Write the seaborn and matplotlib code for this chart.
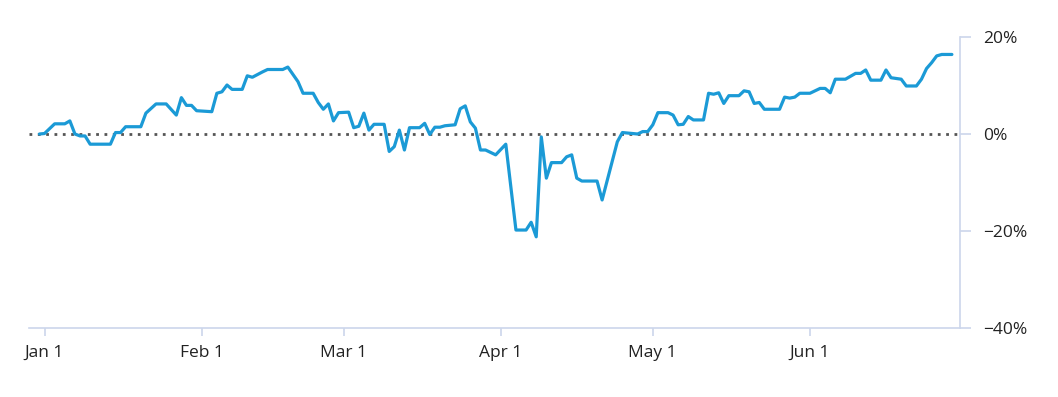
import matplotlib
matplotlib.use("Agg")
import matplotlib.pyplot as plt
import matplotlib.dates as mdates
import seaborn as sns
import pandas as pd
import numpy as np

# Day offsets from Jan 1 and cumulative return (%)
day_offsets = [-1, 0, 2, 4, 5, 6, 7, 8, 9, 13, 14, 15, 16, 19, 20, 22, 24, 26, 27, 28,
               29, 30, 33, 34, 35, 36, 37, 39, 40, 41, 43, 44, 47, 48, 50, 51, 53, 54, 55, 56,
               57, 58, 60, 61, 62, 63, 64, 65, 67, 68, 69, 70, 71, 72, 74, 75, 76, 77, 78, 79,
               81, 82, 83, 84, 85, 86, 87, 89, 91, 93, 95, 96, 97, 98, 99, 100, 102, 103, 104, 105,
               106, 109, 110, 113, 114, 116, 117, 118, 119, 120, 121, 123, 124, 125, 126, 127, 128, 130, 131, 132,
               133, 134, 135, 137, 138, 139, 140, 141, 142, 145, 146, 147, 148, 149, 151, 153, 154, 155, 156, 158,
               160, 161, 162, 163, 165, 166, 167, 169, 170, 172, 173, 174, 175, 176, 177, 179]
returns_pct = [0.0, 0.1, 2.1, 2.1, 2.7, 0.0, -0.4, -0.4, -2.1, -2.1, 0.3, 0.3, 1.5, 1.5, 4.3, 6.2, 6.2, 3.9, 7.5, 5.9,
               5.9, 4.8, 4.6, 8.4, 8.7, 10.1, 9.2, 9.2, 12.0, 11.7, 12.8, 13.3, 13.3, 13.8, 10.8, 8.4, 8.4, 6.5, 5.1, 6.2,
               2.7, 4.4, 4.5, 1.3, 1.6, 4.3, 0.8, 2.0, 2.0, -3.6, -2.6, 0.8, -3.3, 1.3, 1.3, 2.2, -0.1, 1.4, 1.4, 1.7,
               1.9, 5.2, 5.8, 2.5, 1.2, -3.3, -3.3, -4.3, -2.1, -19.8, -19.8, -18.2, -21.2, -0.6, -9.1, -5.9, -5.9, -4.7, -4.3, -9.1,
               -9.7, -9.7, -13.6, -1.6, 0.3, 0.1, 0.0, 0.5, 0.5, 1.9, 4.4, 4.4, 3.9, 1.9, 2.0, 3.6, 2.9, 2.9, 8.4, 8.2,
               8.5, 6.3, 7.9, 7.9, 8.9, 8.7, 6.3, 6.5, 5.1, 5.1, 7.6, 7.4, 7.6, 8.4, 8.4, 9.4, 9.4, 8.5, 11.3, 11.3,
               12.5, 12.5, 13.2, 11.1, 11.1, 13.2, 11.6, 11.3, 9.9, 9.9, 11.3, 13.5, 14.7, 16.1, 16.4, 16.4]

month_ticks = ["2021-01-01", "2021-02-01", "2021-03-01", "2021-04-01", "2021-05-01", "2021-06-01"]
y_ticks = [-40, -20, 0, 20]
y_tick_labels = ["\u221240%", "\u221220%", "0%", "20%"]

start = pd.Timestamp("2021-01-01")
df = pd.DataFrame({
    "date": [start + pd.Timedelta(days=d) for d in day_offsets],
    "ret": returns_pct,
})

sns.set_theme(style="white")
plt.rcParams["font.family"] = ["Open Sans", "DejaVu Sans"]

fig = plt.figure(figsize=(10.58, 3.97), dpi=100)
ax = fig.add_axes([29 / 1058, 1 - 328 / 397, (960 - 29) / 1058, (328 - 37) / 397])

line_color = "#1b9ad6"
axis_color = "#ccd6eb"
text_color = "#222222"

ax.axhline(0, color="#555555", lw=2.0, ls=(0, (1, 2)), dash_capstyle="butt", zorder=1)
sns.lineplot(data=df, x="date", y="ret", ax=ax, color=line_color, lw=2.3, zorder=3)

ax.set_xlim(start - pd.Timedelta(days=3.06), start + pd.Timedelta(days=180.6))
ax.set_ylim(-40, 20)

ax.set_xticks([pd.Timestamp(t) for t in month_ticks])
ax.xaxis.set_major_formatter(mdates.DateFormatter("%b %-d"))
ax.set_yticks(y_ticks)
ax.set_yticklabels(y_tick_labels)

ax.yaxis.tick_right()
ax.yaxis.set_label_position("right")
ax.set_xlabel("")
ax.set_ylabel("")

for side in ["top", "left"]:
    ax.spines[side].set_visible(False)
for side in ["bottom", "right"]:
    ax.spines[side].set_visible(True)
    ax.spines[side].set_color(axis_color)
    ax.spines[side].set_linewidth(1.2)

ax.tick_params(axis="y", which="major", direction="out", length=8, width=1.2,
               color=axis_color, pad=9, labelsize=12.5, labelcolor=text_color,
               left=False, right=True, labelleft=False, labelright=True)
ax.tick_params(axis="x", which="major", direction="out", length=6, width=1.2,
               color=axis_color, pad=6, labelsize=12.5, labelcolor=text_color, bottom=True)

ax.grid(False)
ax.set_facecolor("white")
fig.patch.set_facecolor("white")

fig.savefig("out.png", dpi=100)
